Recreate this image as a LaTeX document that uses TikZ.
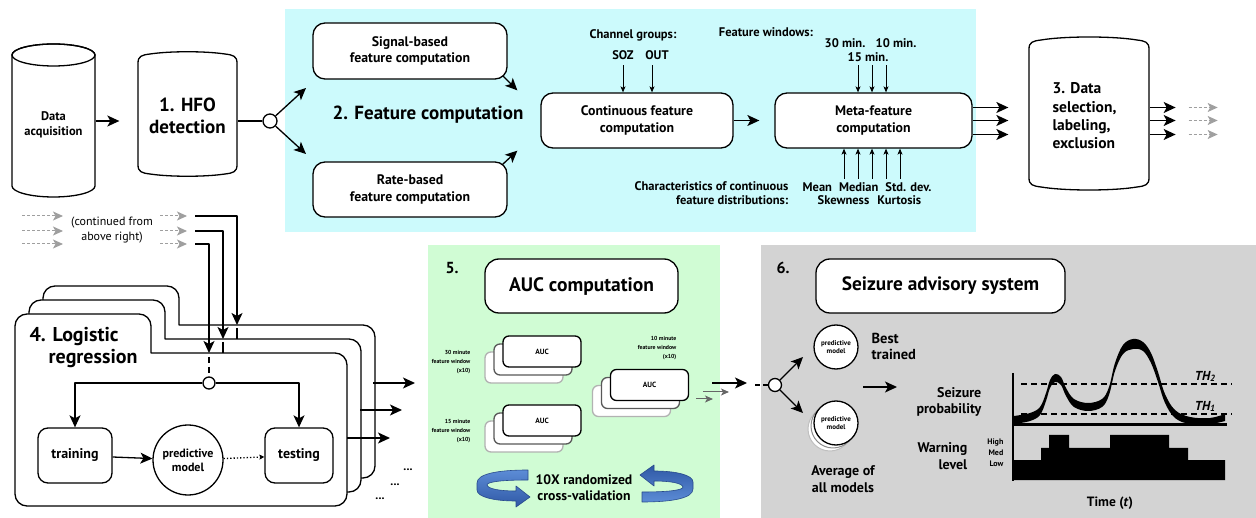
\documentclass[tikz,border=0pt]{standalone}
\usepackage{fontspec}
\setmainfont{PT Sans}
\usetikzlibrary{arrows.meta,calc}
\newcommand\fsz[2]{\fontsize{#1}{#2}\selectfont}
\definecolor{featbg}{RGB}{204,250,252}
\definecolor{aucbg}{RGB}{208,252,212}
\definecolor{sasbg}{RGB}{211,211,211}
\definecolor{ringtop}{RGB}{92,140,214}
\definecolor{ringbot}{RGB}{47,88,165}
\definecolor{ringedge}{RGB}{40,74,140}
\tikzset{
  arr/.style={line width=1.3pt,-{Stealth[length=12pt,width=11pt,inset=3pt]}},
  sarr/.style={line width=0.8pt,-{Stealth[length=6pt,width=5pt,inset=1.5pt]}},
  garr/.style={line width=1pt,gray!75,dash pattern=on 3pt off 2pt,-{Stealth[length=10pt,width=9pt,inset=2.5pt]}},
  gsarr/.style={line width=1pt,black!60,-{Stealth[length=8pt,width=7pt,inset=2pt]}},
  rbox/.style={draw,fill=white,rounded corners=12pt,align=center,line width=1.3pt},
  abox/.style={draw,fill=white,rounded corners=6pt,minimum width=78,minimum height=31,line width=1.3pt,font=\bfseries\fsz{7.5}{8}},
  lbl/.style={inner sep=0,font=\bfseries\fsz{#1}{#1}},
  pm/.style={circle,draw,fill=white,inner sep=0,line width=1.3pt,align=center},
  ring/.style={top color=ringtop,bottom color=ringbot,draw=ringedge,line width=0.6pt}
}
\begin{document}
\begin{tikzpicture}[x=1pt,y=-1pt,line width=1.3pt,line join=round]
\useasboundingbox (0,0) rectangle (1256,518);

% panel backgrounds
\fill[featbg] (285,9) rectangle (976,232);
\fill[aucbg] (428,245) rectangle (720,518);
\fill[sasbg] (761,245) rectangle (1256,518);

% ---------- data acquisition (cylinder) ----------
\draw[fill=white] (12,55) -- (12,186) arc[start angle=180,end angle=360,x radius=41.5pt,y radius=11pt]
   -- (95,55) arc[start angle=0,end angle=180,x radius=41.5pt,y radius=11pt] -- cycle;
\draw (53.5,55) ellipse[x radius=41.5pt,y radius=11pt];
\node[align=center,minimum width=83,minimum height=100,inner sep=0,font=\bfseries\fsz{12.5}{15}] (acq) at (53.5,125) {Data\\acquisition};

% ---------- 1. HFO detection ----------
\draw[fill=white] (138,165) -- (138,63) .. controls (138,56) and (142,55) .. (150,54)
  .. controls (170,51) and (205,51) .. (225,54) .. controls (233,55) and (237,56) .. (237,63)
  -- (237,165) .. controls (237,172) and (233,173) .. (225,174)
  .. controls (205,177) and (170,177) .. (150,174) .. controls (142,173) and (138,172) .. (138,165) -- cycle;
\node[align=center,minimum width=99,minimum height=100,inner sep=0,font=\bfseries\fsz{19}{22}] (hfo) at (187.5,116) {1. HFO\\detection};
\node[circle,draw,fill=white,inner sep=0,minimum size=14] (s1) at (270,121) {};
\draw[arr,shorten >=18pt] (acq.east |- s1) -- (hfo.west |- s1);
\draw (s1 -| hfo.east) -- (s1);
\coordinate (sigIn) at (306,88);
\coordinate (rateIn) at (306,154);
\draw[arr] (s1) -- (sigIn);
\draw[arr] (s1) -- (rateIn);

% ---------- 2. feature computation ----------
\node[rbox,minimum width=194,minimum height=56,font=\bfseries\fsz{13.8}{16.5}] (sig) at (410,51) {Signal-based\\feature computation};
\node[rbox,minimum width=194,minimum height=55,font=\bfseries\fsz{13.8}{16.5}] (rate) at (410,189.5) {Rate-based\\feature computation};
\node[lbl=19] (fc) at (428,115) {2. Feature computation};
\node[rbox,minimum width=192,minimum height=55,font=\bfseries\fsz{13.8}{16.5}] (cont) at (637,120.5) {Continuous feature\\computation};
\node[rbox,minimum width=197,minimum height=55,font=\bfseries\fsz{13.8}{16.5}] (meta) at (873.5,120.5) {Meta-feature\\computation};
\draw[arr] ([shift={(-5,-4)}]sig.south east) -- ([shift={(-23,-2)}]cont.north west);
\draw[arr] ([shift={(-5,3)}]rate.north east) -- ([shift={(-23,2)}]cont.south west);
\draw[arr,shorten >=15pt] (cont) -- (meta);

\node[lbl=12.5] (cg) at (633,35) {Channel groups:};
\node[lbl=12.5] (soz) at (623,55) {SOZ};
\node[lbl=12.5] (out) at (657,55) {OUT};
\coordinate (sozA) at ([yshift=-5pt]soz.south);
\coordinate (outA) at ([shift={(-5,5)}]out.south);
\draw[sarr] (sozA) -- (sozA |- cont.north);
\draw[sarr] (outA) -- (outA |- cont.north);

\node[lbl=12.5] (fw) at (766,32) {Feature windows:};
\node[lbl=12.5] (m30) at (845,43) {30 min.};
\node[lbl=12.5] (m10) at (896,43) {10 min.};
\node[lbl=12.5] (m15) at (868,57) {15 min.};
\foreach \dx [count=\i] in {-10,4,18} {
  \coordinate (w\i) at ([shift={(\dx,3)}]m15.south);
  \draw[sarr] (w\i) -- (w\i |- meta.north);
}
\foreach \x [count=\i] in {844,858,872,886,900} {
  \coordinate (c\i) at (\x,179);
  \draw[sarr] (c\i) -- (c\i |- meta.south);
}
\node[inner sep=0,anchor=east,align=right,font=\bfseries\fsz{12.5}{13.5}] (ch) at (789,193) {Characteristics of continuous\\feature distributions:};
\node[lbl=12.5,anchor=west] (st1) at (802,187) {Mean\hspace{7pt}Median\hspace{7pt}Std. dev.};
\node[lbl=12.5,anchor=west] (st2) at (817,200.5) {Skewness\hspace{8pt}Kurtosis};

% ---------- 3. data selection ----------
\draw[fill=white] (1029,178) -- (1029,49) .. controls (1029,42) and (1033,41) .. (1041,40)
  .. controls (1065,36) and (1113,36) .. (1137,40) .. controls (1145,41) and (1149,42) .. (1149,49)
  -- (1149,178) .. controls (1149,185) and (1145,186) .. (1137,187)
  .. controls (1113,191) and (1065,191) .. (1041,187) .. controls (1033,186) and (1029,185) .. (1029,178) -- cycle;
\node[minimum width=120,minimum height=153,inner sep=0] (sel) at (1089,113.5) {};
\node[anchor=west,inner sep=0,align=left,font=\bfseries\fsz{15.5}{18.3}] (selt) at (1052,116) {3. Data\\selection,\\labeling,\\exclusion};
\foreach \d [count=\i] in {13,0,-14} {
  \coordinate (o\i) at ([yshift=\d pt]meta.east);
  \draw[arr,shorten >=20pt] (o\i) -- (o\i -| sel.west);
  \draw[arr] (o\i -| sel.east) -- ++(26,0);
  \path (o\i -| sel.east) ++(39,0) coordinate (g\i);
  \draw[garr] (g\i) -- ++(29,0);
}

% ---------- continuation into 4 ----------
\foreach \y [count=\i] in {216,231,244} {
  \coordinate (ga\i) at (22,\y);
  \draw[garr] (ga\i) -- ++(41,0);
  \coordinate (gb\i) at (160,\y);
  \draw[garr] (gb\i) -- ++(27,0);
}
\node[align=center,inner sep=0,font=\fsz{12}{15}] (cfa) at (112,230) {(continued from\\above right)};

% ---------- 4. logistic regression (stacked folders) ----------
\foreach \s in {2,1,0} {
  \begin{scope}[shift={(14*\s,-14*\s)}]
    \draw[fill=white] (15,420) [rounded corners=12pt] -- (15,314) -- (151,314) [sharp corners] -- (151,353)
      [rounded corners=12pt] -- (347,353) -- (347,506) -- (15,506) -- cycle;
  \end{scope}
}
\node[lbl=20,anchor=west] (lr1) at (29,337) {4. Logistic};
\node[lbl=20,anchor=west] (lr2) at (48,359) {regression};

\coordinate (in1) at (195,216);
\coordinate (in2) at (195,231);
\coordinate (in3) at (195,244);
\coordinate (t1) at (237,325);
\coordinate (t2) at (223,339);
\coordinate (t3) at (209,353);
\draw[arr] (in1) -| (t1);
\draw[arr] (in2) -| (t2);
\draw[arr] (in3) -| (t3);
\draw (237,328) -- (237,339);
\draw (223,342) -- (223,353);

\node[circle,draw,fill=white,inner sep=0,minimum size=12] (s2) at (209,383) {};
\draw[dash pattern=on 6pt off 4pt] (209,357) -- (s2.north);
\node[rbox,rounded corners=10pt,minimum width=74,minimum height=55,font=\bfseries\fsz{14}{16}] (train) at (75,455.5) {training};
\node[pm,minimum size=70,font=\bfseries\fsz{12}{14}] (model) at (188,460) {predictive\\model};
\node[rbox,rounded corners=10pt,minimum width=68,minimum height=55,font=\bfseries\fsz{14}{16}] (test) at (299,455.5) {testing};
\draw[arr] (s2) -| (train.north);
\draw[arr] (s2) -| (test.north);
\draw[arr] (train) -- (model);
\draw[dotted,line width=1.3pt,-{Stealth[length=5pt,width=5pt,inset=1pt]}] (model) -- (test);

\coordinate (L3) at (373,383);
\coordinate (L2) at (360,410);
\coordinate (L1) at (347,438);
\draw[arr] (L3) -- ++(42,0);
\draw[arr] (L2) -- ++(42,0);
\draw[arr] (L1) -- ++(43,0);
\node[lbl=12] (d1) at (408,470) {...};
\node[lbl=12] (d2) at (395,485) {...};
\node[lbl=12] (d3) at (380,499) {...};

% ---------- 5. AUC computation ----------
\node[lbl=16] (n5) at (452,268) {5.};
\node[rbox,rounded corners=14pt,minimum width=193,minimum height=54,font=\bfseries\fsz{19.5}{20}] (aucc) at (581.5,286) {AUC computation};
\foreach \nm/\x/\y in {a30/542/351.5, a15/542/420.5, a10/649.5/385} {
  \node[abox,draw=black!30] (\nm c) at (\x-18,\y+16) {};
  \node[abox,draw=black!65] (\nm b) at (\x-9,\y+8) {};
  \node[abox] (\nm) at (\x,\y) {AUC};
}
\node[anchor=east,align=right,inner sep=0,font=\bfseries\fsz{5.8}{9}] (l30) at (471,362) {30 minute\\feature window\\(x10)};
\node[anchor=east,align=right,inner sep=0,font=\bfseries\fsz{5.8}{9}] (l15) at (471,431) {15 minute\\feature window\\(x10)};
\node[anchor=east,align=right,inner sep=0,font=\bfseries\fsz{5.8}{9}] (l10) at (677,348) {10 minute\\feature window\\(x10)};

\coordinate (gs1) at (703,392);
\coordinate (gs2) at (696,399);
\draw[gsarr] (gs1) -- ++(26,0);
\draw[gsarr] (gs2) -- ++(17,0);
\coordinate (aout) at (712,383);
\draw[arr] (aout) -- ++(35,0);

% cross-validation ring arrows
\shadedraw[ring] (528,470) .. controls (497,470) and (477,474) .. (477,483) -- (477,490)
  .. controls (477,497) and (494,501) .. (516,501) -- (516,507) -- (530,497) -- (516,486) -- (516,491)
  .. controls (500,491) and (488,489) .. (487,485) .. controls (487,482) and (500,480) .. (528,480) -- cycle;
\begin{scope}[rotate around={180:(585,486)}]
\shadedraw[ring,top color=ringbot,bottom color=ringtop] (528,470) .. controls (497,470) and (477,474) .. (477,483) -- (477,490)
  .. controls (477,497) and (494,501) .. (516,501) -- (516,507) -- (530,497) -- (516,486) -- (516,491)
  .. controls (500,491) and (488,489) .. (487,485) .. controls (487,482) and (500,480) .. (528,480) -- cycle;
\end{scope}
\node[align=center,inner sep=0,font=\bfseries\fsz{13.7}{16}] (cv) at (584,488) {10X randomized\\cross-validation};

% ---------- 6. seizure advisory system ----------
\node[lbl=16] (n6) at (783,268) {6.};
\node[rbox,rounded corners=14pt,minimum width=249,minimum height=54,font=\bfseries\fsz{19.3}{20}] (sas) at (940.5,286) {Seizure advisory system};
\node[circle,draw,fill=white,inner sep=0,minimum size=13] (s3) at (775,385) {};
\draw[dash pattern=on 5pt off 3pt] ([xshift=-20pt]s3.center) -- (s3.west);
\node[pm,minimum size=44,font=\bfseries\fsz{7}{8}] (bm) at (836,347) {predictive\\model};
\node[circle,draw=black!25,fill=white,inner sep=0,minimum size=44,line width=1pt] (am3) at (830,429) {};
\node[circle,draw=black!45,fill=white,inner sep=0,minimum size=44,line width=1pt] (am2) at (833,426) {};
\node[pm,minimum size=44,font=\bfseries\fsz{7}{8}] (am) at (836,423) {predictive\\model};
\coordinate (bmIn) at (803,357);
\coordinate (amIn) at (803,413);
\draw[arr] (s3) -- (bmIn);
\draw[arr] (s3) -- (amIn);
\node[anchor=west,align=left,inner sep=0,font=\bfseries\fsz{14.5}{16}] (best) at (871,346) {Best\\trained};
\node[align=center,inner sep=0,font=\bfseries\fsz{14}{17}] (avg) at (843,479) {Average of\\all models};
\coordinate (sA) at (863,387);
\draw[arr] (sA) -- ++(34,0);
\node[anchor=east,align=right,inner sep=0,font=\bfseries\fsz{14}{16}] (sp) at (982,402) {Seizure\\probability};
\node[anchor=east,align=right,inner sep=0,font=\bfseries\fsz{14}{16.5}] (wl) at (968,456) {Warning\\level};
\node[anchor=east,align=right,inner sep=0,font=\bfseries\fsz{8}{11}] (hml) at (1004,453) {High\\Med\\Low};

% probability plot
\fill (1013,480) -- (1013,460) -- (1041,460) -- (1041,448) -- (1049,448) -- (1049,435) -- (1069,435)
  -- (1069,448) -- (1110,448) -- (1110,435) -- (1169,435) -- (1169,448) -- (1188,448) -- (1188,460)
  -- (1225,460) -- (1225,480) -- cycle;
\draw[line width=2.5pt] (1013,373) -- (1013,481);
\draw[line width=3pt] (1013,425) -- (1227,425);
\draw[line width=1.2pt,dash pattern=on 6pt off 4pt] (1021,384) -- (1232,384);
\draw[line width=1.2pt,dash pattern=on 6pt off 4pt] (1021,414) -- (1232,414);
\fill plot[smooth,tension=0.6] coordinates {(1014,416) (1030,413) (1040,407) (1046,393) (1050,380) (1055,374)
   (1061,377) (1066,388) (1074,399) (1088,403) (1102,399) (1109,387) (1115,363) (1123,345) (1133,339)
   (1143,342) (1151,353) (1158,372) (1165,394) (1175,410) (1190,417) (1210,418) (1225,414)}
  -- plot[smooth,tension=0.6] coordinates {(1225,421) (1210,424) (1190,424) (1175,418) (1165,403) (1158,382)
   (1151,363) (1143,351) (1133,349) (1123,354) (1115,371) (1109,395) (1102,407) (1088,411) (1074,407)
   (1066,396) (1061,385) (1055,382) (1050,388) (1046,401) (1040,415) (1030,421) (1014,424)} -- cycle;
\node[inner sep=0,font=\bfseries\itshape\fsz{13}{13}] (th2) at (1205,376) {TH\raisebox{-1pt}{\fsz{9}{9}2}};
\node[inner sep=0,font=\bfseries\itshape\fsz{13}{13}] (th1) at (1205,406) {TH\raisebox{-1pt}{\fsz{9}{9}1}};
\node[inner sep=0,font=\bfseries\fsz{13.5}{13.5}] (time) at (1110,503) {Time (\textit{t})};
\end{tikzpicture}
\end{document}
